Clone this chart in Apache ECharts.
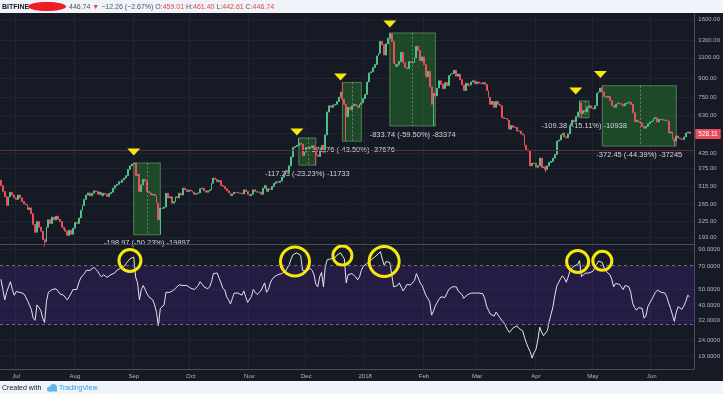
<!DOCTYPE html>
<html>
<head>
<meta charset="utf-8">
<script src="https://cdn.jsdelivr.net/npm/echarts@6.0.0/dist/echarts.min.js"></script>
<style>
html,body{margin:0;padding:0;background:#f0f3f7;}
#chart{width:723px;height:394px;}
</style>
</head>
<body>
<div id="chart"></div>
<script>
// ---------------- data ----------------
const startDate = '2017-06-23';
const dayCount = 366;
const firstOpen = 335;

const closesJun17 = [318, 300, 285, 262, 285, 298, 290, 282];
const closesJul17 = [278, 290, 282, 272, 266, 264, 252, 256, 242, 218, 202, 224, 212, 204, 188, 184, 212, 228, 220, 234, 228, 236, 229, 224, 212, 208, 204, 196, 206, 198, 210];
const closesAug17 = [222, 220, 232, 250, 262, 278, 290, 296, 288, 295, 302, 300, 292, 298, 288, 295, 292, 286, 294, 298, 310, 318, 322, 330, 328, 336, 342, 350, 372, 385, 392];
const closesSep17 = [396, 350, 355, 300, 320, 338, 332, 300, 296, 290, 292, 288, 268, 228, 255, 255, 258, 295, 282, 285, 268, 272, 285, 282, 295, 290, 310, 305, 300, 304];
const closesOct17 = [302, 298, 292, 294, 296, 308, 310, 302, 298, 302, 305, 325, 342, 338, 330, 334, 318, 315, 308, 302, 296, 288, 293, 298, 297, 296, 295, 293, 305, 300, 292];
const closesNov17 = [288, 292, 305, 300, 298, 298, 292, 310, 318, 300, 308, 306, 315, 325, 330, 328, 332, 345, 355, 368, 362, 385, 420, 460, 465, 470, 480, 475, 425, 440];
const closesDec17 = [460, 455, 462, 468, 455, 428, 422, 450, 470, 440, 520, 650, 690, 680, 695, 700, 720, 750, 790, 735, 700, 620, 680, 665, 690, 700, 690, 680, 700, 710, 740];
const closesJan18 = [770, 870, 950, 960, 1000, 1030, 1120, 1150, 1290, 1250, 1130, 1260, 1330, 1390, 1290, 1040, 1010, 1030, 1060, 1160, 1050, 1000, 990, 1060, 1050, 1050, 1100, 1230, 1180, 1070, 1110];
const closesFeb18 = [1030, 915, 965, 830, 700, 780, 760, 820, 880, 850, 815, 865, 840, 925, 940, 945, 975, 920, 940, 890, 845, 800, 860, 840, 845, 870, 880, 855];
const closesMar18 = [870, 860, 855, 865, 850, 800, 750, 700, 720, 680, 720, 700, 690, 615, 610, 610, 600, 550, 570, 560, 560, 540, 540, 525, 520, 470, 450, 445, 385, 395, 395];
const closesApr18 = [380, 385, 415, 378, 382, 372, 385, 398, 402, 415, 430, 490, 495, 520, 530, 510, 505, 525, 570, 600, 590, 620, 650, 710, 640, 660, 650, 680, 690, 675];
const closesMay18 = [670, 690, 780, 790, 820, 790, 755, 750, 755, 725, 690, 680, 700, 710, 705, 700, 690, 705, 710, 715, 700, 645, 590, 600, 590, 585, 565, 555, 565, 580, 590];
const closesJun18 = [595, 610, 615, 590, 605, 605, 600, 600, 595, 530, 535, 500, 490, 515, 505, 500, 498, 510, 530, 535, 528];

const wickHighDates = ['2017-09-01', '2017-11-27', '2017-12-20', '2018-01-14', '2018-04-24', '2018-05-06'];
const wickHighs = [396.1, 505.1, 866.1, 1401.2, 723.9, 839.0];
const wickLowDates = ['2017-07-16', '2017-09-15', '2017-12-06', '2017-12-22', '2018-02-06', '2018-04-06', '2018-04-25', '2018-06-13'];
const wickLows = [176, 197.1, 387.7, 489.4, 567.5, 362, 614.5, 466.6];

const rsiJun17 = [58, 50, 43, 48, 52, 56, 50, 46];
const rsiJul17 = [48.5, 48, 48, 47.5, 47, 45, 42.5, 40, 37.5, 33, 32, 40, 40, 37, 33, 31, 42, 48, 49, 50, 50, 50.5, 49, 47, 46, 46, 45, 43, 45, 46, 50];
const rsiAug17 = [51, 50, 55, 59, 61, 63, 66, 67, 66, 67, 69, 67, 65, 62, 60, 62, 62, 59.6, 61, 62, 63, 63.5, 66, 67, 68, 69, 70, 73, 75, 78, 79];
const rsiSep17 = [80, 60, 55, 43, 50, 53, 50, 47, 45, 44, 43, 40, 36, 29.5, 38, 39, 40, 48, 49, 48, 48.5, 49.5, 51, 52, 53.5, 55, 53, 52.5, 53, 52];
const rsiOct17 = [51, 50.5, 50, 51, 53, 56, 54, 52, 51, 50.5, 52, 56, 63, 64, 63.5, 59, 55, 51, 49.5, 45, 43, 40.5, 44, 47.5, 48, 47.5, 47, 46, 49, 45, 41.5];
const rsiNov17 = [41.5, 45, 50, 48, 46.5, 47.5, 49, 52, 55, 48, 50, 55, 58, 60, 61, 62, 62.5, 63, 64, 65, 66, 72, 78, 83, 85, 85, 84, 82, 66, 66];
const rsiDec17 = [65, 66, 68, 66, 62, 54, 52, 60, 64, 52, 70, 77, 79, 78, 77, 79, 82, 84, 85, 83, 78, 55, 62, 61, 63, 62, 60, 57.5, 60, 66, 70];
const rsiJan18 = [72, 73, 75, 76.5, 78, 80, 82, 84, 86.5, 78, 71, 75, 77, 74, 62, 52, 51, 53, 55, 56, 49, 51, 53.7, 53, 53.5, 54.5, 57, 63, 59, 55, 53];
const rsiFeb18 = [52, 46, 45.5, 42, 34.5, 36.5, 39.5, 41.5, 43.5, 45, 45, 44.5, 47, 50, 51, 52, 53.5, 52, 49, 48, 46.5, 44, 44, 46.5, 47.5, 47.5, 47.5, 47.5];
const rsiMar18 = [47.5, 47.5, 47.3, 47, 44, 39.3, 37, 35, 34.5, 34, 36, 35, 33.3, 32, 31, 29.5, 28, 26.8, 27.5, 28.7, 29, 29.5, 28.5, 28, 27.5, 25, 23, 21.5, 20.3, 18.5, 20];
const rsiApr18 = [21, 24, 29, 27, 25.6, 25.6, 27.5, 31.5, 35, 39, 46, 52.5, 55.5, 58.5, 61, 59, 55.5, 60, 65.5, 68, 70, 70, 72, 76, 60.3, 62, 63.3, 63.3, 63.5, 64];
const rsiMay18 = [65, 66.6, 72, 75.5, 77, 74, 68, 65, 63.3, 62, 58, 52, 54.5, 55, 54, 52, 50, 53, 54, 52, 48, 41, 38.5, 37, 38.5, 39, 38, 33, 34, 39, 41];
const rsiJun18 = [43.2, 45.5, 48, 49.5, 49, 48, 47.5, 47.5, 45, 41, 38, 34.5, 31.5, 36, 39, 38, 37.5, 39.5, 42, 46, 45];

const priceTicks = [1600, 1300, 1100, 900, 750, 630, 530, 435, 375, 315, 265, 225, 193];
const priceLabels = [1600, 1300, 1100, 900, 750, 630, 435, 375, 315, 265, 225, 193];
const rsiTicks = [90, 70, 50, 40, 32, 24, 19];
const rsiBand = [30, 70];
const monthNames = ['Jan','Feb','Mar','Apr','May','Jun','Jul','Aug','Sep','Oct','Nov','Dec'];
const lastPrice = 528.11;
const closeLine = 446.74;

const measureStart = ['2017-09-01', '2017-11-27', '2017-12-20', '2018-01-14', '2018-04-24', '2018-05-06'];
const measureEnd   = ['2017-09-15', '2017-12-06', '2017-12-30', '2018-02-07', '2018-04-29', '2018-06-14'];
const measureTop    = [396.1, 505.1, 866.1, 1401.2, 723.9, 839.0];
const measureBottom = [197.1, 387.7, 489.4, 567.5, 614.5, 466.6];
const measureText = ['-198.97 (-50.23%) -19897', '-117.33 (-23.23%) -11733', '-376.76 (-43.50%) -37676',
                     '-833.74 (-59.50%) -83374', '-109.38 (-15.11%) -10938', '-372.45 (-44.39%) -37245'];

const peakDates = ['2017-09-01', '2017-11-26', '2017-12-19', '2018-01-14', '2018-04-22', '2018-05-05'];
const peakMarkPrices = [441, 535, 913, 1528, 797, 935];

const circleDates = ['2017-08-30', '2017-11-25', '2017-12-20', '2018-01-11', '2018-04-23', '2018-05-06'];
const circleRsi = [76.1, 75, 81.8, 75, 75, 75.8];

// ---------------- build ----------------
const L = v => Math.log10(v);
const dates = [];
const t0 = Date.parse(startDate + 'T00:00:00Z');
for (let k = 0; k < dayCount; k++) dates.push(new Date(t0 + k * 86400000).toISOString().slice(0, 10));

const closes = [].concat(closesJun17, closesJul17, closesAug17, closesSep17, closesOct17, closesNov17,
  closesDec17, closesJan18, closesFeb18, closesMar18, closesApr18, closesMay18, closesJun18);
const rsi = [].concat(rsiJun17, rsiJul17, rsiAug17, rsiSep17, rsiOct17, rsiNov17,
  rsiDec17, rsiJan18, rsiFeb18, rsiMar18, rsiApr18, rsiMay18, rsiJun18);

const candleData = closes.map((c, k) => {
  const o = k === 0 ? firstOpen : closes[k - 1];
  let lo = Math.min(o, c), hi = Math.max(o, c);
  const h = wickHighDates.indexOf(dates[k]); if (h >= 0) hi = Math.max(hi, wickHighs[h]);
  const l = wickLowDates.indexOf(dates[k]); if (l >= 0) lo = Math.min(lo, wickLows[l]);
  return [L(o), L(c), L(lo), L(hi)];
});
const rsiData = rsi.map(L);

const FONT = 'Liberation Sans, Arial, sans-serif';
const UP = '#4fbf8a', DOWN = '#eb4d5c';
const GRIDC = '#20242f';
const LABELC = '#b2b5be';
const isMonthStart = (i, v) => typeof v === 'string' && v.slice(8) === '01';
const monthLabel = v => { const m = +v.slice(5, 7); return m === 1 ? v.slice(0, 4) : monthNames[m - 1]; };
const fmt2 = v => Math.pow(10, v).toFixed(2);
const fmt4 = v => Math.pow(10, v).toFixed(4);

const measureMid = measureStart.map((s, k) => {
  const a = dates.indexOf(s), b = dates.indexOf(measureEnd[k]);
  return dates[Math.round((a + b) / 2)];
});

const circleSizes = [22, 29, 19, 30, 22, 19];

const option = {
  backgroundColor: '#161a25',
  animation: false,
  grid: [
    { left: 0, right: 28, top: 14, height: 230 },
    { left: 0, right: 28, top: 245, height: 124 }
  ],
  xAxis: [
    { type: 'category', gridIndex: 0, data: dates, boundaryGap: true,
      axisLine: { show: false }, axisTick: { show: false }, axisLabel: { show: false },
      splitLine: { show: true, interval: isMonthStart, lineStyle: { color: GRIDC, width: 1 } } },
    { type: 'category', gridIndex: 1, data: dates, boundaryGap: true,
      axisLine: { show: true, lineStyle: { color: '#4a4e5a' } }, axisTick: { show: false },
      axisLabel: { show: true, interval: isMonthStart, formatter: monthLabel, color: LABELC,
                   fontSize: 6, fontFamily: FONT, margin: 4 },
      splitLine: { show: true, interval: isMonthStart, lineStyle: { color: GRIDC, width: 1 } } }
  ],
  yAxis: [
    { type: 'value', gridIndex: 0, position: 'right', min: L(180.2), max: L(1684),
      axisLine: { show: true, lineStyle: { color: '#4a4e5a' } },
      axisTick: { show: false, customValues: priceTicks.map(L) },
      axisLabel: { customValues: priceLabels.map(L), formatter: fmt2, color: LABELC, fontSize: 6, fontFamily: FONT, margin: 4 },
      splitLine: { show: true, lineStyle: { color: GRIDC, width: 1 } } },
    { type: 'value', gridIndex: 1, position: 'right', min: L(15.8), max: L(95.3),
      axisLine: { show: true, lineStyle: { color: '#4a4e5a' } },
      axisTick: { show: false, customValues: rsiTicks.map(L) },
      axisLabel: { customValues: rsiTicks.map(L), formatter: fmt4, color: LABELC, fontSize: 6, fontFamily: FONT, margin: 4 },
      splitLine: { show: true, lineStyle: { color: GRIDC, width: 1 } } }
  ],
  series: [
    {
      // measurement boxes, drawn beneath the candles
      type: 'line', xAxisIndex: 0, yAxisIndex: 0, data: [], z: 1, silent: true,
      markArea: {
        silent: true,
        itemStyle: { color: 'rgba(40,130,45,0.45)', borderColor: 'rgba(130,180,130,0.55)', borderWidth: 1 },
        label: { show: true, position: 'bottom', distance: 4, color: '#d1d4dc', fontSize: 7.5, fontFamily: FONT, formatter: '{b}' },
        data: measureStart.map((s, k) => [
          { name: measureText[k], coord: [s, L(measureTop[k])] },
          { coord: [measureEnd[k], L(measureBottom[k])] }
        ])
      },
      markLine: {
        silent: true, symbol: ['none', 'none'], label: { show: false },
        lineStyle: { color: 'rgba(190,200,190,0.45)', type: [2, 2], width: 1 },
        data: measureMid.map((d, k) => [
          { coord: [d, L(measureTop[k])] },
          { coord: [d, L(measureBottom[k])] }
        ])
      }
    },
    {
      type: 'candlestick', xAxisIndex: 0, yAxisIndex: 0, data: candleData, barWidth: 1.4, z: 3,
      itemStyle: { color: UP, color0: DOWN, borderColor: UP, borderColor0: DOWN, borderWidth: 1 },
      markLine: {
        silent: true, symbol: ['none', 'none'],
        data: [
          { yAxis: L(closeLine), lineStyle: { color: '#5e2b35', type: 'solid', width: 1 }, label: { show: false } },
          { yAxis: L(lastPrice), lineStyle: { color: 'rgba(0,0,0,0)', width: 1 },
            label: { show: true, position: 'end', distance: 1, formatter: lastPrice.toFixed(2),
                     backgroundColor: DOWN, color: '#ffffff', padding: [2, 3, 1, 3], fontSize: 6.5, fontFamily: FONT } }
        ]
      },
      markPoint: {
        silent: true,
        symbol: 'path://M0,0L10,0L5,6Z', symbolSize: [13, 7],
        itemStyle: { color: '#f7e80c' }, label: { show: false },
        data: peakDates.map((d, k) => ({ coord: [d, L(peakMarkPrices[k])] }))
      }
    },
    {
      type: 'line', xAxisIndex: 1, yAxisIndex: 1, data: rsiData, showSymbol: false,
      lineStyle: { color: '#e4e4ee', width: 1 },
      markArea: { silent: true, itemStyle: { color: 'rgba(100,40,190,0.2)' },
        data: [[{ yAxis: L(rsiBand[1]) }, { yAxis: L(rsiBand[0]) }]] },
      markLine: { silent: true, symbol: ['none', 'none'], label: { show: false },
        lineStyle: { color: '#6b6e7a', type: [3, 3], width: 1 },
        data: rsiBand.map(v => ({ yAxis: L(v) })) },
      markPoint: { silent: true, symbol: 'circle', label: { show: false },
        itemStyle: { color: 'rgba(0,0,0,0)', borderColor: '#f7e80c', borderWidth: 3 },
        data: circleDates.map((d, k) => ({ coord: [d, L(circleRsi[k])], symbolSize: circleSizes[k] })) }
    }
  ],
  graphic: [
    { type: 'rect', shape: { x: 0, y: 0, width: 723, height: 13 }, style: { fill: '#f0f3f7' }, z: 100 },
    { type: 'rect', shape: { x: 0, y: 381, width: 723, height: 13 }, style: { fill: '#f0f3f7' }, z: 100 },
    { type: 'line', shape: { x1: 0, y1: 244.5, x2: 695, y2: 244.5 }, style: { stroke: '#4a4e5a', lineWidth: 1 }, z: 100 },
    { type: 'text', x: 2, y: 7, z: 101,
      style: { text: 'BITFINE', font: 'bold 7px ' + FONT, fill: '#131722', verticalAlign: 'middle' } },
    { type: 'ellipse', shape: { cx: 47, cy: 6.5, rx: 19, ry: 4.6 }, style: { fill: '#ee1c25' }, z: 101 },
    { type: 'text', x: 69, y: 7, z: 101,
      style: {
        text: '{n|446.74} {r|▼} {n|−12.26 (−2.67%)} {n|O:}{r|459.01} {n|H:}{r|461.40} {n|L:}{r|442.61} {n|C:}{r|446.74}',
        verticalAlign: 'middle', font: '7px ' + FONT,
        rich: {
          n: { fill: '#50535e', font: '7px ' + FONT },
          r: { fill: '#e0474c', font: '7px ' + FONT }
        }
      } },
    { type: 'text', x: 2, y: 388, z: 101,
      style: { text: 'Created with', font: '7px ' + FONT, fill: '#131722', verticalAlign: 'middle' } },
    { type: 'circle', shape: { cx: 49.5, cy: 389, r: 2.6 }, style: { fill: '#5cb8ef' }, z: 101 },
    { type: 'circle', shape: { cx: 53.5, cy: 387.5, r: 3.4 }, style: { fill: '#5cb8ef' }, z: 101 },
    { type: 'rect', shape: { x: 49.5, y: 388.5, width: 7.5, height: 3 }, style: { fill: '#5cb8ef' }, z: 101 },
    { type: 'text', x: 59, y: 388, z: 101,
      style: { text: 'TradingView', font: '7px ' + FONT, fill: '#2a9ee8', verticalAlign: 'middle' } }
  ]
};

const chart = echarts.init(document.getElementById('chart'), null, { renderer: 'canvas' });
chart.setOption(option);
</script>
</body>
</html>
